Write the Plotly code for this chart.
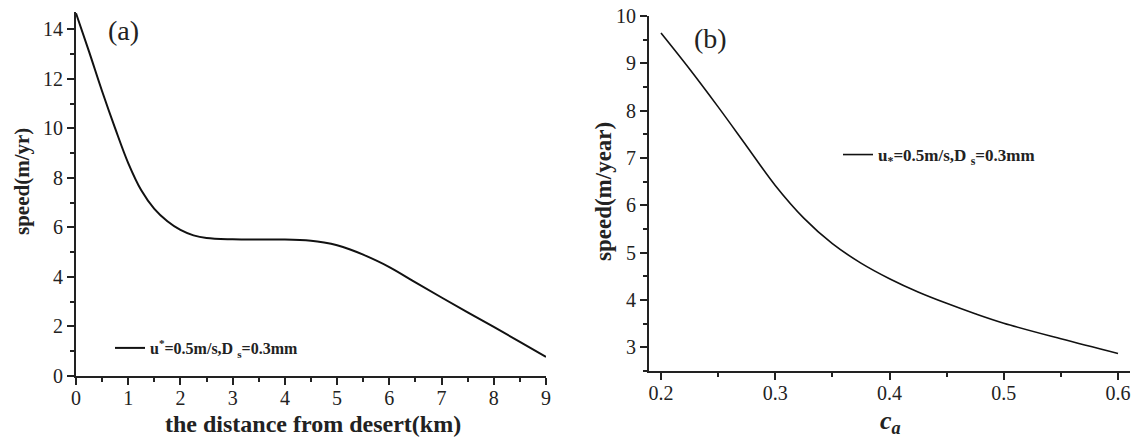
import plotly.graph_objects as go

# Panel (a): speed vs distance from desert
dist_km = [0, 0.25, 0.5, 0.75, 1.0, 1.25, 1.5, 1.75, 2.0, 2.25, 2.5, 3.0, 3.5, 4.0,
           4.5, 4.75, 5.0, 5.25, 5.5, 6.0, 6.5, 7.0, 7.5, 8.0, 8.5, 9.0]
speed_a = [14.65, 13.1, 11.5, 10.0, 8.6, 7.5, 6.75, 6.25, 5.9, 5.68, 5.57, 5.52, 5.51, 5.51,
           5.46, 5.39, 5.28, 5.11, 4.9, 4.4, 3.78, 3.17, 2.57, 1.98, 1.38, 0.77]

# Panel (b): speed vs c_a
ca = [0.2, 0.225, 0.25, 0.275, 0.3, 0.325, 0.35, 0.375, 0.4, 0.425, 0.45, 0.475, 0.5, 0.55, 0.6]
speed_b = [9.64, 8.88, 8.08, 7.25, 6.42, 5.73, 5.19, 4.78, 4.45, 4.17, 3.93, 3.71, 3.51, 3.18, 2.87]

legend_text = "u<sup>*</sup>=0.5m/s,D <sub>s</sub>=0.3mm"
legend_text_b = "u<sub>*</sub>=0.5m/s,D <sub>s</sub>=0.3mm"
title_xa = "the distance from desert(km)"
title_ya = "speed(m/yr)"
title_xb = "<b><i>c<sub>a</sub></i></b>"
title_yb = "speed(m/year)"

SERIF = "Liberation Serif"
INK = "#222222"

fig = go.Figure()
fig.add_trace(go.Scatter(x=dist_km, y=speed_a, mode="lines", name=legend_text,
                         line=dict(color="#111111", width=2, shape="spline", smoothing=1.0),
                         xaxis="x", yaxis="y", legend="legend"))
fig.add_trace(go.Scatter(x=ca, y=speed_b, mode="lines", name=legend_text_b,
                         line=dict(color="#111111", width=1.6, shape="spline", smoothing=1.0),
                         xaxis="x2", yaxis="y2", legend="legend2"))

tickfont = dict(family=SERIF, size=20, color=INK)

common = dict(showline=True, linecolor=INK, linewidth=2, ticks="outside",
              ticklen=7, tickwidth=2, tickcolor=INK, showgrid=False, zeroline=False,
              tickfont=tickfont, automargin=False)
minor_style = dict(ticks="outside", ticklen=4, tickwidth=2, tickcolor=INK)

def label(text, x, y, size, angle=0, bold=True):
    return dict(text=text, x=x/1136, y=1-y/440, xref="paper", yref="paper",
                xanchor="center", yanchor="middle", showarrow=False, textangle=angle,
                font=dict(family=SERIF, size=size, color=INK, weight="bold" if bold else "normal"))

fig.update_layout(
    width=1136, height=440,
    margin=dict(l=0, r=0, t=0, b=0),
    paper_bgcolor="white", plot_bgcolor="white",
    hovermode=False,
    xaxis=dict(domain=[76/1136, 546/1136], range=[0, 9], dtick=1, anchor="y",
               ticklabelstandoff=-4,
               minor=dict(dtick=0.5, **minor_style), **common),
    yaxis=dict(domain=[1-376/440, 1-12/440], range=[0, 14.7], dtick=2, anchor="x",
               minor=dict(dtick=1, **minor_style), **common),
    xaxis2=dict(domain=[649/1136, 1130/1136], range=[0.1895, 0.6105], dtick=0.1, tick0=0.2,
                anchor="y2", tickformat=".1f", ticklabelstandoff=-4,
                minor=dict(dtick=0.05, tick0=0.2, **minor_style), **common),
    yaxis2=dict(domain=[1-371/440, 1-16/440], range=[2.5, 10], dtick=1, anchor="x2",
                minor=dict(dtick=0.5, **minor_style), **common),
    legend=dict(x=110/1136, y=1-348/440, xanchor="left", yanchor="middle",
                bgcolor="rgba(0,0,0,0)", itemwidth=30,
                font=dict(family=SERIF, size=16, color=INK, weight="bold")),
    legend2=dict(x=838/1136, y=1-155/440, xanchor="left", yanchor="middle",
                 bgcolor="rgba(0,0,0,0)", itemwidth=30,
                 font=dict(family=SERIF, size=17, color=INK, weight="bold")),
    showlegend=True,
    annotations=[
        label("(a)", 123, 31, 28, bold=False),
        label("(b)", 710, 39, 28, bold=False),
        label(title_xa, 313, 424, 24),
        label(title_ya, 22, 182, 21, angle=-90),
        label(title_xb, 890, 422, 26),
        label(title_yb, 604, 192, 23, angle=-90),
    ],
)

fig.write_html("out.html", config={"displayModeBar": False},
               post_script="document.body.style.margin='0px';")
